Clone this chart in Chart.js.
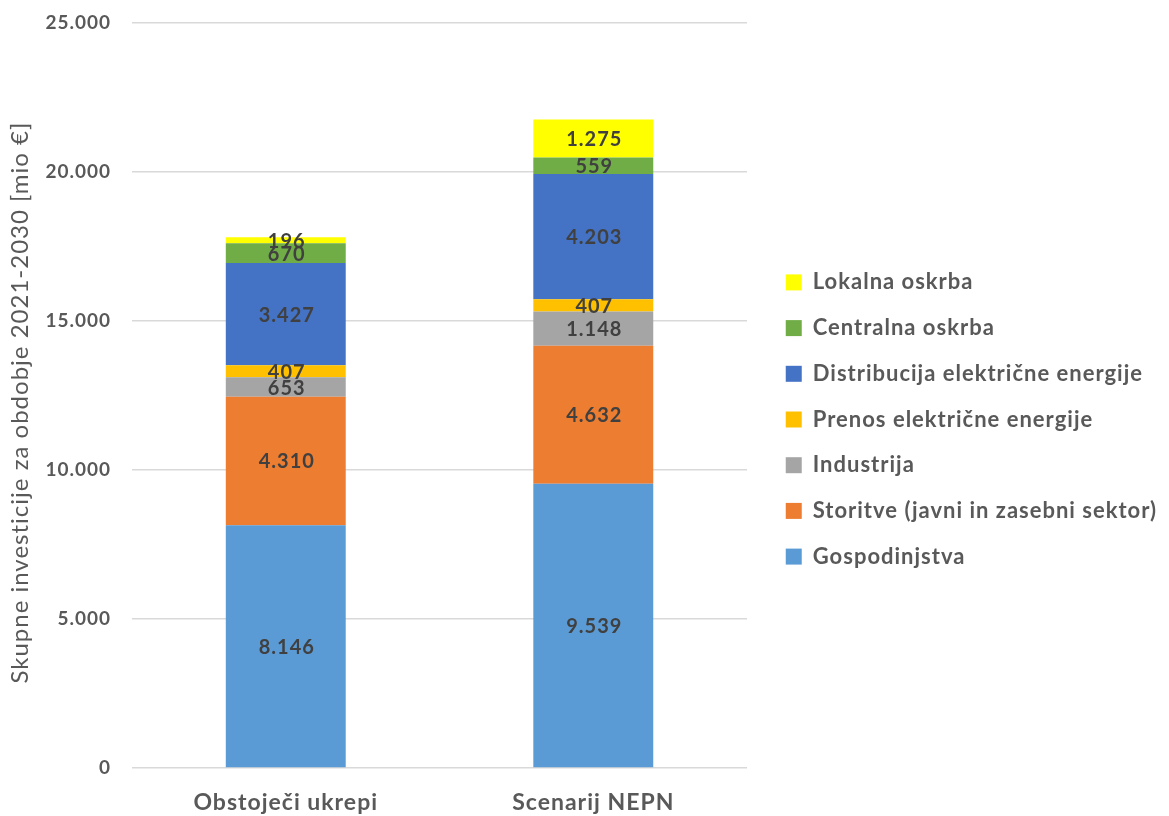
<!DOCTYPE html>
<html>
<head>
<meta charset="utf-8">
<script src="https://cdn.jsdelivr.net/npm/chart.js@4"></script>
<style>
  html, body { margin: 0; padding: 0; background: #fff; }
  #wrap { width: 1169px; height: 816px; }
</style>
</head>
<body>
<div id="wrap"><canvas id="chart" width="1169" height="816"></canvas></div>
<script>
// Naložbe 2021-2030 [mio €]
const scenarios = ["Obstoječi ukrepi", "Scenarij NEPN"];

const gospodinjstva = [8146, 9539];
const storitve = [4310, 4632];
const industrija = [653, 1148];
const prenos = [407, 407];
const distribucija = [3427, 4203];
const centralna = [670, 559];
const lokalna = [196, 1275];

const yTicks = [0, 5000, 10000, 15000, 20000, 25000];

const FONT = "Lato, 'Open Sans', sans-serif";
const GRAY = "#595959";

function formatNumber(num) {
    return String(num).replace(/\B(?=(\d{3})+(?!\d))/g, ".");
}

// Excel-like wide text spacing
const spacing = {
    id: "spacing",
    beforeLayout(chart) { chart.ctx.letterSpacing = "1px"; },
    beforeDraw(chart) { chart.ctx.letterSpacing = "1px"; },
    afterLayout(chart) {
        // push legend a bit away from the plot
        chart.legend.left += 15;
        chart.legend.right += 15;
    }
};

// labels in the middle of each segment
const segmentLabels = {
    id: "segmentLabels",
    afterDatasetsDraw(chart) {
        const ctx = chart.ctx;
        ctx.save();
        ctx.font = "bold 20px " + FONT;
        ctx.fillStyle = "#404040";
        ctx.textAlign = "center";
        ctx.textBaseline = "middle";
        chart.data.datasets.forEach((ds, i) => {
            const meta = chart.getDatasetMeta(i);
            meta.data.forEach((bar, j) => {
                const y = (bar.y + bar.base) / 2;
                ctx.fillText(formatNumber(ds.data[j]), bar.x + 1, y + 1);
            });
        });
        ctx.restore();
    }
};

const datasets = [
    { label: "Gospodinjstva", data: gospodinjstva, backgroundColor: "#5B9BD5" },
    { label: "Storitve (javni in zasebni sektor)", data: storitve, backgroundColor: "#ED7D31" },
    { label: "Industrija", data: industrija, backgroundColor: "#A5A5A5" },
    { label: "Prenos električne energije", data: prenos, backgroundColor: "#FFC000" },
    { label: "Distribucija električne energije", data: distribucija, backgroundColor: "#4472C4" },
    { label: "Centralna oskrba", data: centralna, backgroundColor: "#70AD47" },
    { label: "Lokalna oskrba", data: lokalna, backgroundColor: "#FFFF00" }
];

new Chart(document.getElementById("chart"), {
    type: "bar",
    data: {
        labels: scenarios,
        datasets: datasets.map(d => Object.assign(d, {
            barPercentage: 0.39,
            categoryPercentage: 1,
            borderWidth: 0
        }))
    },
    options: {
        responsive: false,
        animation: false,
        layout: { padding: { top: 23, right: 17, bottom: 0, left: 0 } },
        plugins: {
            tooltip: { enabled: false },
            legend: {
                position: "right",
                align: "center",
                reverse: true,
                maxWidth: 460,
                labels: {
                    boxWidth: 16,
                    boxHeight: 16,
                    padding: 23.7,
                    color: GRAY,
                    font: { family: FONT, size: 22, weight: "bold" }
                }
            }
        },
        scales: {
            x: {
                stacked: true,
                grid: { display: false },
                border: { display: false },
                ticks: {
                    color: GRAY,
                    padding: 13,
                    font: { family: FONT, size: 23, weight: "bold" }
                },
                afterFit(scale) { scale.height = 48; }
            },
            y: {
                stacked: true,
                min: 0,
                max: 25000,
                afterBuildTicks(scale) {
                    scale.ticks = yTicks.map(v => ({ value: v }));
                },
                grid: { color: "#D9D9D9", lineWidth: 1.5, drawTicks: false },
                border: { display: false },
                ticks: {
                    color: GRAY,
                    padding: 21,
                    font: { family: FONT, size: 19, weight: "bold" },
                    callback: v => formatNumber(v)
                },
                title: {
                    display: true,
                    text: "Skupne investicije za obdobje 2021-2030 [mio €]  ",
                    color: GRAY,
                    padding: { top: 6, bottom: 0 },
                    font: { family: FONT, size: 24, weight: "normal" }
                },
                afterFit(scale) {
                    scale.width = 132;
                    scale.paddingTop = 0;
                    scale.paddingBottom = 0;
                }
            }
        }
    },
    plugins: [spacing, segmentLabels]
});
</script>
</body>
</html>
